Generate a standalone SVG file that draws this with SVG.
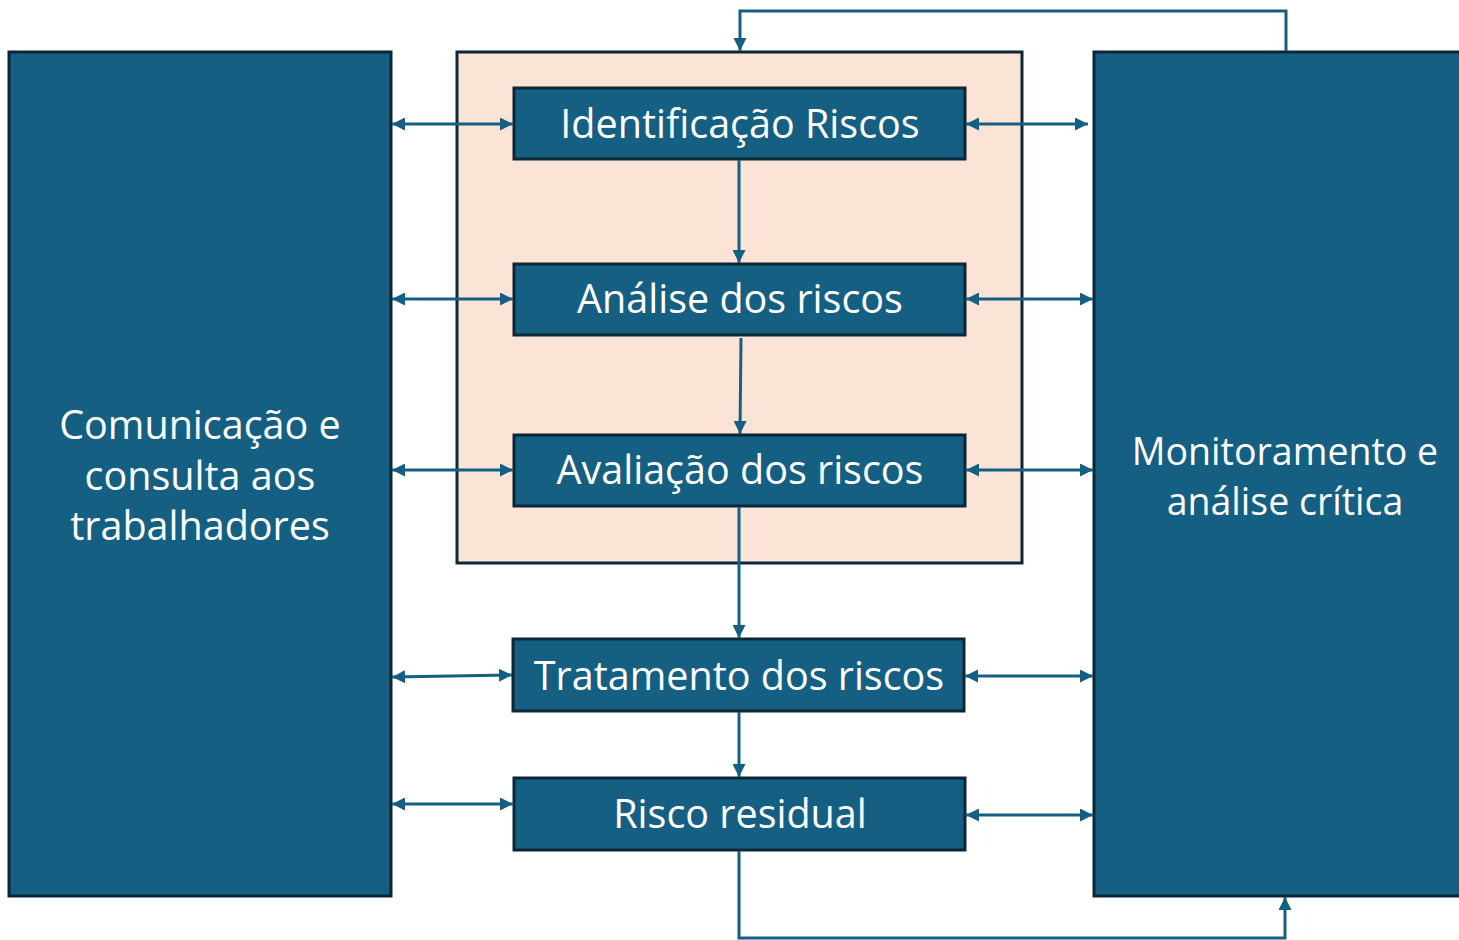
<svg xmlns="http://www.w3.org/2000/svg" width="1459" height="940" viewBox="0 0 1459 940">
<style>
.big{fill:#156082;stroke:#0C2638;stroke-width:3}
.box{fill:#156082;stroke:#0C2638;stroke-width:3}
.peach{fill:#FBE3D6;stroke:#0C2638;stroke-width:3}
.t{font-family:"Open Sans","Noto Sans",sans-serif;font-size:39.5px;fill:#ffffff;text-anchor:middle;dominant-baseline:central}
.c{fill:none;stroke:#156082;stroke-width:3}
</style>
<defs>
<marker id="ah" viewBox="0 0 12 12" refX="12" refY="6" markerWidth="13" markerHeight="13" markerUnits="userSpaceOnUse" orient="auto-start-reverse">
<path d="M0,0 L12,6 L0,12 Z" fill="#156082"/>
</marker>
</defs>
<rect width="1459" height="940" fill="#ffffff"/>
<g id="comunicacao">
<rect class="big" x="9" y="52" width="382" height="844"/>
<text class="t"><tspan x="200" y="424">Comunicação e</tspan><tspan x="200" y="475">consulta aos</tspan><tspan x="200" y="525">trabalhadores</tspan></text>
</g>
<g id="processo">
<rect class="peach" x="457" y="52" width="565" height="511"/>
</g>
<g id="monitoramento">
<rect class="big" x="1094" y="52" width="370" height="844"/>
<text class="t" style="font-size:37.5px"><tspan x="1285" y="450">Monitoramento e</tspan><tspan x="1285" y="500">análise crítica</tspan></text>
</g>
<g id="identificacao">
<rect class="box" x="514" y="88" width="451" height="71"/>
<text class="t" x="740" y="123">Identificação Riscos</text>
</g>
<g id="analise">
<rect class="box" x="514" y="264" width="451" height="71"/>
<text class="t" x="740" y="298">Análise dos riscos</text>
</g>
<g id="avaliacao">
<rect class="box" x="514" y="435" width="451" height="71"/>
<text class="t" x="740" y="469">Avaliação dos riscos</text>
</g>
<g id="tratamento">
<rect class="box" x="513" y="639" width="451" height="72"/>
<text class="t" x="739" y="675">Tratamento dos riscos</text>
</g>
<g id="residual">
<rect class="box" x="514" y="778" width="451" height="72"/>
<text class="t" x="740" y="813">Risco residual</text>
</g>
<g id="connectors">
<line class="c" x1="392" y1="124" x2="513" y2="124" marker-start="url(#ah)" marker-end="url(#ah)"/>
<line class="c" x1="392" y1="299" x2="513" y2="299" marker-start="url(#ah)" marker-end="url(#ah)"/>
<line class="c" x1="392" y1="470" x2="513" y2="470" marker-start="url(#ah)" marker-end="url(#ah)"/>
<line class="c" x1="392" y1="677" x2="512" y2="675" marker-start="url(#ah)" marker-end="url(#ah)"/>
<line class="c" x1="392" y1="804" x2="513" y2="804" marker-start="url(#ah)" marker-end="url(#ah)"/>
<line class="c" x1="966" y1="124" x2="1088" y2="124" marker-start="url(#ah)" marker-end="url(#ah)"/>
<line class="c" x1="966" y1="299" x2="1093" y2="299" marker-start="url(#ah)" marker-end="url(#ah)"/>
<line class="c" x1="966" y1="470" x2="1093" y2="470" marker-start="url(#ah)" marker-end="url(#ah)"/>
<line class="c" x1="965" y1="676" x2="1093" y2="676" marker-start="url(#ah)" marker-end="url(#ah)"/>
<line class="c" x1="966" y1="815" x2="1093" y2="815" marker-start="url(#ah)" marker-end="url(#ah)"/>
<line class="c" x1="739" y1="160" x2="739" y2="263" marker-end="url(#ah)"/>
<line class="c" x1="741" y1="338" x2="740" y2="434" marker-end="url(#ah)"/>
<line class="c" x1="739" y1="507" x2="739" y2="638" marker-end="url(#ah)"/>
<line class="c" x1="739" y1="712" x2="739" y2="777" marker-end="url(#ah)"/>
<polyline class="c" points="1286,51 1286,11 740,11 740,51" marker-end="url(#ah)"/>
<polyline class="c" points="739,851 739,938 1285,938 1285,897" marker-end="url(#ah)"/>
</g>
</svg>
